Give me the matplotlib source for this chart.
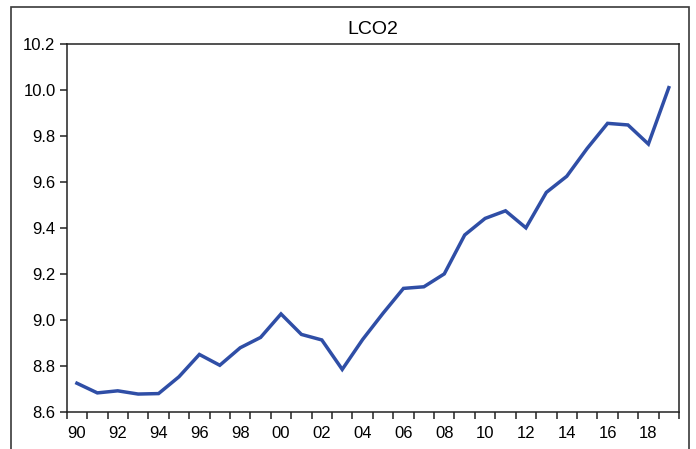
import matplotlib
matplotlib.use("Agg")
import matplotlib.pyplot as plt
from matplotlib.patches import Rectangle
from matplotlib.ticker import FixedLocator, FixedFormatter

plt.rcParams['font.family'] = ['Liberation Sans', 'DejaVu Sans']

years = list(range(1990, 2020))
lco2 = [8.725, 8.683, 8.692, 8.678, 8.680, 8.753, 8.850, 8.803, 8.879, 8.924,
        9.026, 8.937, 8.913, 8.785, 8.915, 9.029, 9.137, 9.144, 9.200, 9.369,
        9.441, 9.474, 9.400, 9.554, 9.624, 9.745, 9.854, 9.847, 9.764, 10.009]
label_years = list(range(1990, 2020, 2))
y_ticks = [8.6, 8.8, 9.0, 9.2, 9.4, 9.6, 9.8, 10.0, 10.2]

W, H = 696, 449
fig = plt.figure(figsize=(W / 100, H / 100), dpi=100)
fig.patch.set_facecolor('white')

# outer frame around the whole graph
fig.add_artist(Rectangle((11 / W, -0.05), (689 - 11) / W, 1.05 - 7 / H,
                         transform=fig.transFigure, fill=False,
                         edgecolor='#3a3a3a', linewidth=1.2))

ax = fig.add_axes([66.7 / W, 1 - 412 / H, (679 - 66.7) / W, (412 - 43.7) / H])

# each year occupies one unit interval; points sit at interval centres
xs = [y + 0.5 for y in years]
ax.plot(xs, lco2, color='#2f4ea6', linewidth=2.5, solid_joinstyle='miter')

ax.set_xlim(1990, 2020)
ax.set_ylim(8.6, 10.2)

ax.xaxis.set_major_locator(FixedLocator([y + 0.5 for y in label_years]))
ax.xaxis.set_major_formatter(FixedFormatter([f"{y % 100:02d}" for y in label_years]))
ax.xaxis.set_minor_locator(FixedLocator(list(range(1990, 2021))))
ax.tick_params(axis='x', which='major', length=0, pad=10, labelsize=12)
ax.tick_params(axis='x', which='minor', length=5, width=1.1, direction='out', color='#222222')

ax.set_yticks(y_ticks)
ax.set_yticklabels([f"{v:.1f}" for v in y_ticks])
ax.tick_params(axis='y', length=5, width=1.1, direction='out', pad=3, labelsize=12,
               color='#222222')

for s in ax.spines.values():
    s.set_color('#222222')
    s.set_linewidth(1.1)

ax.set_title('LCO2', fontsize=14, pad=7)

fig.savefig('out.png', dpi=100)
